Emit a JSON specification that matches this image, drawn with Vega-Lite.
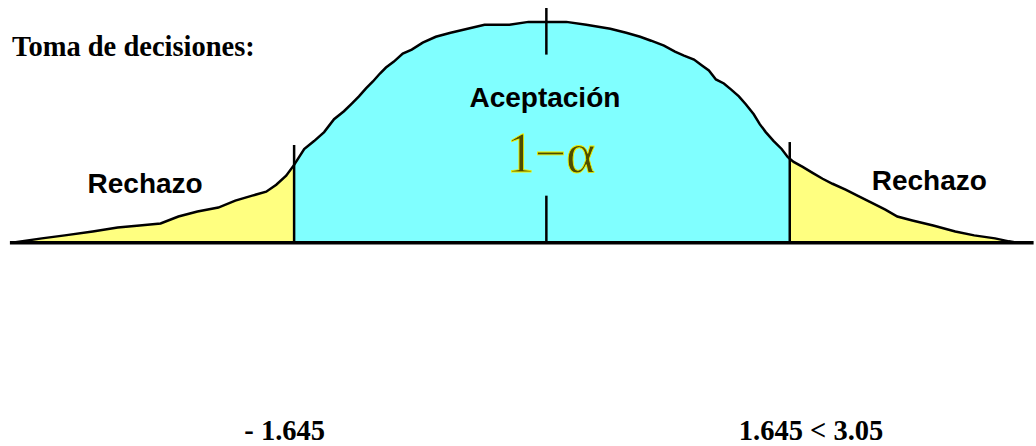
{
  "$schema": "https://vega.github.io/schema/vega-lite/v6.json",
  "width": 1036,
  "height": 446,
  "autosize": {"type": "fit", "contains": "padding"},
  "padding": 0,
  "background": "white",
  "view": {"stroke": null},
  "datasets": {
    "curve": [
      {"z": -3.548, "d": 0.0, "region": "Rechazo izquierdo"},
      {"z": -3.349, "d": 0.0081, "region": "Rechazo izquierdo"},
      {"z": -3.196, "d": 0.0135, "region": "Rechazo izquierdo"},
      {"z": -3.010, "d": 0.0206, "region": "Rechazo izquierdo"},
      {"z": -2.844, "d": 0.0278, "region": "Rechazo izquierdo"},
      {"z": -2.698, "d": 0.0314, "region": "Rechazo izquierdo"},
      {"z": -2.558, "d": 0.0350, "region": "Rechazo izquierdo"},
      {"z": -2.439, "d": 0.0475, "region": "Rechazo izquierdo"},
      {"z": -2.312, "d": 0.0565, "region": "Rechazo izquierdo"},
      {"z": -2.173, "d": 0.0637, "region": "Rechazo izquierdo"},
      {"z": -2.060, "d": 0.0762, "region": "Rechazo izquierdo"},
      {"z": -1.947, "d": 0.0852, "region": "Rechazo izquierdo"},
      {"z": -1.854, "d": 0.0924, "region": "Rechazo izquierdo"},
      {"z": -1.787, "d": 0.1049, "region": "Rechazo izquierdo"},
      {"z": -1.721, "d": 0.1211, "region": "Rechazo izquierdo"},
      {"z": -1.668, "d": 0.1408, "region": "Rechazo izquierdo"},
      {"z": -1.668, "d": 0.1408, "region": "Aceptación"},
      {"z": -1.601, "d": 0.1695, "region": "Aceptación"},
      {"z": -1.535, "d": 0.1838, "region": "Aceptación"},
      {"z": -1.468, "d": 0.2000, "region": "Aceptación"},
      {"z": -1.402, "d": 0.2233, "region": "Aceptación"},
      {"z": -1.336, "d": 0.2376, "region": "Aceptación"},
      {"z": -1.282, "d": 0.2520, "region": "Aceptación"},
      {"z": -1.236, "d": 0.2645, "region": "Aceptación"},
      {"z": -1.189, "d": 0.2789, "region": "Aceptación"},
      {"z": -1.143, "d": 0.2914, "region": "Aceptación"},
      {"z": -1.096, "d": 0.3058, "region": "Aceptación"},
      {"z": -1.056, "d": 0.3165, "region": "Aceptación"},
      {"z": -1.003, "d": 0.3273, "region": "Aceptación"},
      {"z": -0.944, "d": 0.3417, "region": "Aceptación"},
      {"z": -0.884, "d": 0.3488, "region": "Aceptación"},
      {"z": -0.811, "d": 0.3614, "region": "Aceptación"},
      {"z": -0.724, "d": 0.3721, "region": "Aceptación"},
      {"z": -0.625, "d": 0.3793, "region": "Aceptación"},
      {"z": -0.512, "d": 0.3865, "region": "Aceptación"},
      {"z": -0.399, "d": 0.3937, "region": "Aceptación"},
      {"z": -0.233, "d": 0.3937, "region": "Aceptación"},
      {"z": -0.106, "d": 0.3990, "region": "Aceptación"},
      {"z": 0.020, "d": 0.3990, "region": "Aceptación"},
      {"z": 0.146, "d": 0.3990, "region": "Aceptación"},
      {"z": 0.279, "d": 0.3937, "region": "Aceptación"},
      {"z": 0.439, "d": 0.3865, "region": "Aceptación"},
      {"z": 0.545, "d": 0.3793, "region": "Aceptación"},
      {"z": 0.638, "d": 0.3721, "region": "Aceptación"},
      {"z": 0.711, "d": 0.3650, "region": "Aceptación"},
      {"z": 0.797, "d": 0.3560, "region": "Aceptación"},
      {"z": 0.870, "d": 0.3452, "region": "Aceptación"},
      {"z": 0.930, "d": 0.3381, "region": "Aceptación"},
      {"z": 0.997, "d": 0.3309, "region": "Aceptación"},
      {"z": 1.050, "d": 0.3202, "region": "Aceptación"},
      {"z": 1.096, "d": 0.3112, "region": "Aceptación"},
      {"z": 1.143, "d": 0.2950, "region": "Aceptación"},
      {"z": 1.196, "d": 0.2878, "region": "Aceptación"},
      {"z": 1.243, "d": 0.2771, "region": "Aceptación"},
      {"z": 1.296, "d": 0.2645, "region": "Aceptación"},
      {"z": 1.342, "d": 0.2502, "region": "Aceptación"},
      {"z": 1.395, "d": 0.2322, "region": "Aceptación"},
      {"z": 1.435, "d": 0.2143, "region": "Aceptación"},
      {"z": 1.475, "d": 0.2000, "region": "Aceptación"},
      {"z": 1.528, "d": 0.1838, "region": "Aceptación"},
      {"z": 1.581, "d": 0.1695, "region": "Aceptación"},
      {"z": 1.621, "d": 0.1551, "region": "Aceptación"},
      {"z": 1.635, "d": 0.1520, "region": "Aceptación"},
      {"z": 1.635, "d": 0.1520, "region": "Rechazo derecho"},
      {"z": 1.661, "d": 0.1462, "region": "Rechazo derecho"},
      {"z": 1.721, "d": 0.1372, "region": "Rechazo derecho"},
      {"z": 1.787, "d": 0.1264, "region": "Rechazo derecho"},
      {"z": 1.854, "d": 0.1157, "region": "Rechazo derecho"},
      {"z": 1.920, "d": 0.1067, "region": "Rechazo derecho"},
      {"z": 2.007, "d": 0.0959, "region": "Rechazo derecho"},
      {"z": 2.086, "d": 0.0852, "region": "Rechazo derecho"},
      {"z": 2.166, "d": 0.0744, "region": "Rechazo derecho"},
      {"z": 2.272, "d": 0.0601, "region": "Rechazo derecho"},
      {"z": 2.352, "d": 0.0475, "region": "Rechazo derecho"},
      {"z": 2.452, "d": 0.0404, "region": "Rechazo derecho"},
      {"z": 2.591, "d": 0.0314, "region": "Rechazo derecho"},
      {"z": 2.738, "d": 0.0206, "region": "Rechazo derecho"},
      {"z": 2.864, "d": 0.0135, "region": "Rechazo derecho"},
      {"z": 3.003, "d": 0.0081, "region": "Rechazo derecho"},
      {"z": 3.096, "d": 0.0027, "region": "Rechazo derecho"},
      {"z": 3.150, "d": 0.0, "region": "Rechazo derecho"}
    ],
    "axisline": [{"from": -3.562, "to": 3.26, "level": 0}],
    "rules": [
      {"z": -1.668, "lo": 0, "hi": 0.1767},
      {"z": 1.635, "lo": 0, "hi": 0.182},
      {"z": 0.013, "lo": 0.3399, "hi": 0.4241},
      {"z": 0.013, "lo": 0, "hi": 0.0852}
    ],
    "labels": [
      {"kind": "title", "text": "Toma de decisiones:", "z": -3.548, "d": 0.338},
      {"kind": "region", "text": "Rechazo", "z": -2.661, "d": 0.0906},
      {"kind": "region", "text": "Rechazo", "z": 2.565, "d": 0.0959},
      {"kind": "region", "text": "Aceptación", "z": 0.0033, "d": 0.2448},
      {"kind": "stat", "text": "1−α", "z": 0.043, "d": 0.1282},
      {"kind": "value", "text": "- 1.645", "z": -1.731, "d": -0.356},
      {"kind": "value", "text": "1.645 < 3.05", "z": 1.777, "d": -0.356}
    ]
  },
  "layer": [
    {
      "data": {"name": "curve"},
      "mark": {"type": "area", "opacity": 1},
      "encoding": {
        "x": {"field": "z", "type": "quantitative", "scale": {"domain": [-3.628, 3.256], "nice": false, "zero": false}, "axis": null},
        "y": {"field": "d", "type": "quantitative", "stack": null, "scale": {"domain": [-0.3614, 0.4385], "nice": false, "zero": false}, "axis": null},
        "color": {"field": "region", "type": "nominal", "scale": {"domain": ["Rechazo izquierdo", "Aceptación", "Rechazo derecho"], "range": ["#ffff80", "#80ffff", "#ffff80"]}, "legend": null}
      }
    },
    {
      "data": {"name": "curve"},
      "mark": {"type": "line", "color": "black", "strokeWidth": 2.5},
      "encoding": {
        "x": {"field": "z", "type": "quantitative"},
        "y": {"field": "d", "type": "quantitative"}
      }
    },
    {
      "data": {"name": "axisline"},
      "mark": {"type": "rule", "color": "black", "strokeWidth": 3.5},
      "encoding": {
        "x": {"field": "from", "type": "quantitative"},
        "x2": {"field": "to"},
        "y": {"field": "level", "type": "quantitative"}
      }
    },
    {
      "data": {"name": "rules"},
      "mark": {"type": "rule", "color": "black", "strokeWidth": 2.5},
      "encoding": {
        "x": {"field": "z", "type": "quantitative"},
        "y": {"field": "lo", "type": "quantitative"},
        "y2": {"field": "hi"}
      }
    },
    {
      "data": {"name": "labels"},
      "transform": [{"filter": "datum.kind === 'title'"}],
      "mark": {"type": "text", "align": "left", "baseline": "alphabetic", "font": "Liberation Serif", "fontWeight": "bold", "fontSize": 28.5, "color": "black"},
      "encoding": {
        "x": {"field": "z", "type": "quantitative"},
        "y": {"field": "d", "type": "quantitative"},
        "text": {"field": "text"}
      }
    },
    {
      "data": {"name": "labels"},
      "transform": [{"filter": "datum.kind === 'region'"}],
      "mark": {"type": "text", "align": "center", "baseline": "alphabetic", "font": "Liberation Sans", "fontWeight": "bold", "fontSize": 28, "color": "black"},
      "encoding": {
        "x": {"field": "z", "type": "quantitative"},
        "y": {"field": "d", "type": "quantitative"},
        "text": {"field": "text"}
      }
    },
    {
      "data": {"name": "labels"},
      "transform": [{"filter": "datum.kind === 'stat'"}],
      "mark": {"type": "text", "align": "center", "baseline": "alphabetic", "font": "Liberation Serif", "fontSize": 56, "fill": "#4d4d00", "stroke": "#f0f000", "strokeWidth": 0.8},
      "encoding": {
        "x": {"field": "z", "type": "quantitative"},
        "y": {"field": "d", "type": "quantitative"},
        "text": {"field": "text"}
      }
    },
    {
      "data": {"name": "labels"},
      "transform": [{"filter": "datum.kind === 'value'"}],
      "mark": {"type": "text", "align": "center", "baseline": "alphabetic", "font": "Liberation Serif", "fontWeight": "bold", "fontSize": 28.5, "color": "black"},
      "encoding": {
        "x": {"field": "z", "type": "quantitative"},
        "y": {"field": "d", "type": "quantitative"},
        "text": {"field": "text"}
      }
    }
  ]
}
